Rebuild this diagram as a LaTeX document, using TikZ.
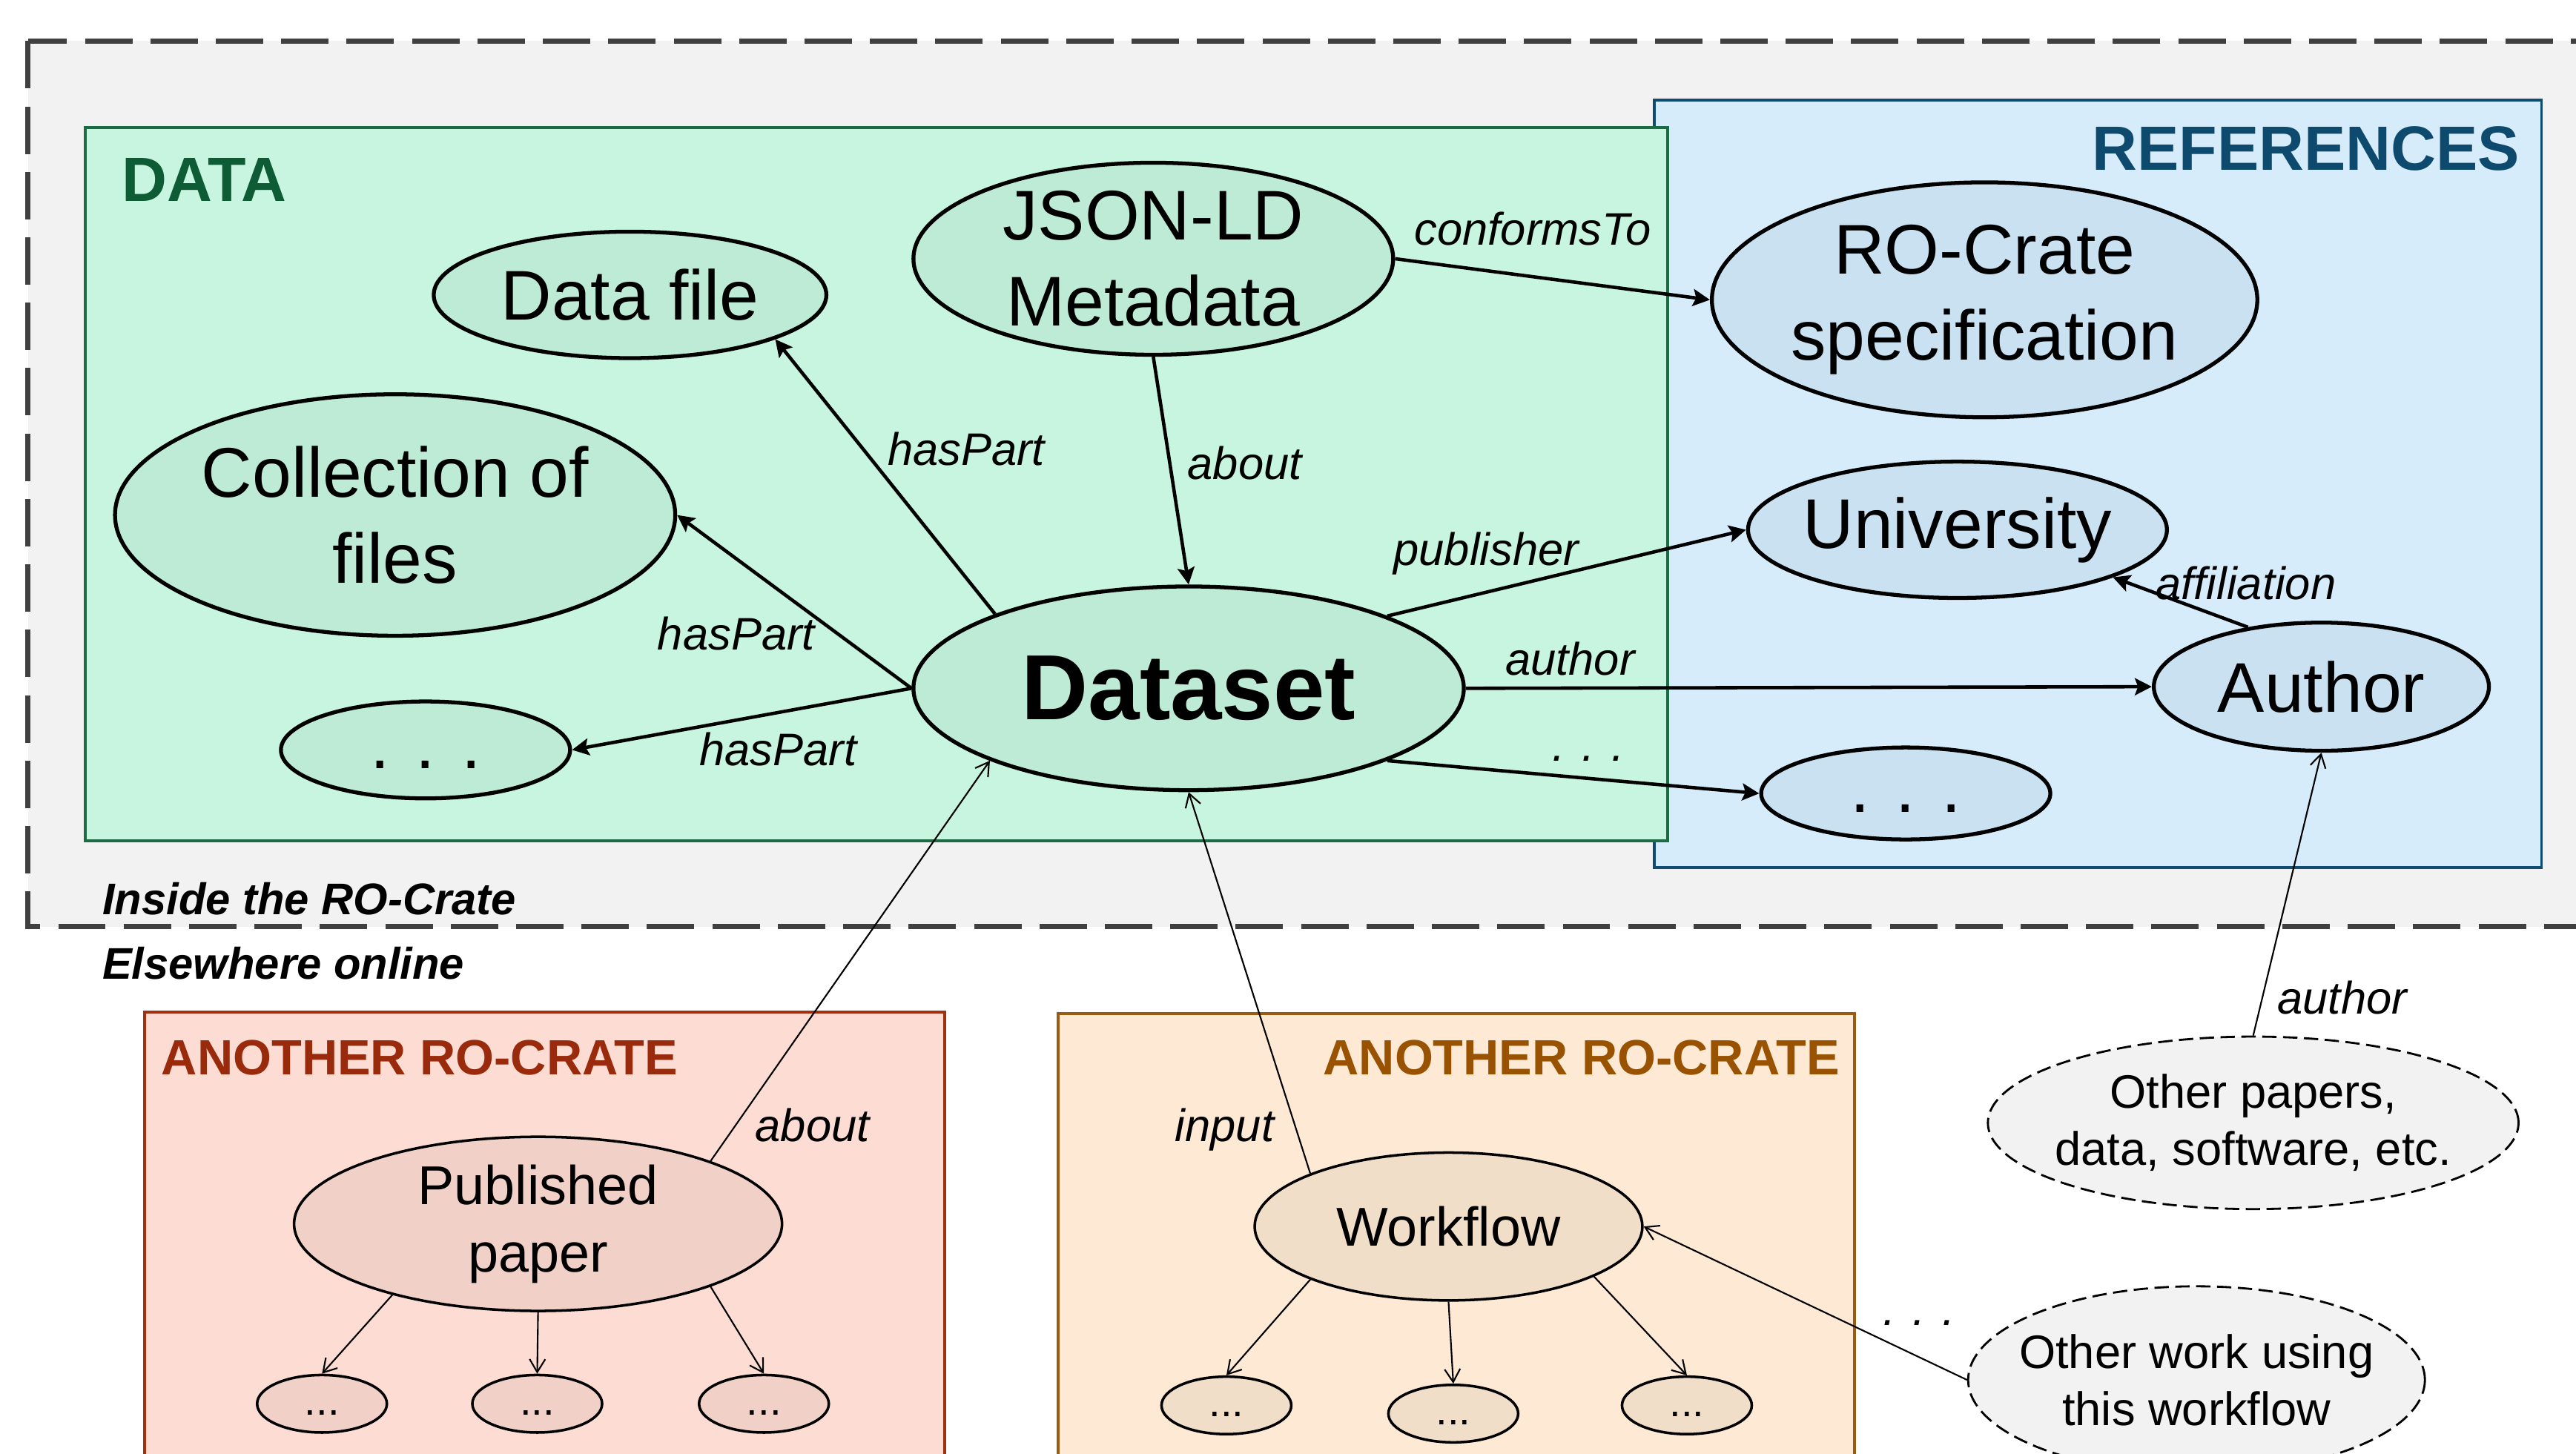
\documentclass[tikz,border=0pt]{standalone}
\usepackage{fontspec}
\setmainfont{Liberation Sans}
\usepackage{tikz}
\usetikzlibrary{arrows.meta,positioning,shapes.geometric}
\definecolor{outerc}{HTML}{F2F2F2}
\definecolor{dashc}{HTML}{404040}
\definecolor{databg}{HTML}{C7F5DF}
\definecolor{databd}{HTML}{1B6B45}
\definecolor{datatx}{HTML}{0D5C36}
\definecolor{grel}{HTML}{BEEBD6}
\definecolor{refbg}{HTML}{D6ECFA}
\definecolor{refbd}{HTML}{0F4C70}
\definecolor{reftx}{HTML}{0D4A6E}
\definecolor{blel}{HTML}{C9E1F1}
\definecolor{redbg}{HTML}{FDDCD3}
\definecolor{redbd}{HTML}{A0300F}
\definecolor{redtx}{HTML}{992A0C}
\definecolor{redel}{HTML}{F1D1C7}
\definecolor{orbg}{HTML}{FEE9D4}
\definecolor{orbd}{HTML}{9A5C12}
\definecolor{ortx}{HTML}{995200}
\definecolor{orel}{HTML}{F1DEC8}
\newcommand\upx{0.22156mm}
\tikzset{
  ar/.style={-{Stealth[length=6.5pt,width=6.5pt,inset=1.2pt]},line width=1.3pt},
  thinar/.style={-{Straight Barb[length=5pt,width=6pt]},line width=0.6pt},
  el/.style 2 args={ellipse,draw,inner ysep=0pt,inner xsep=-12pt,align=center,minimum width=#1*\upx,minimum height=#2*\upx},
  bigtx/.style={line width=1.5pt,font=\fontsize{27}{33}\selectfont},
  midtx/.style={line width=1pt,font=\fontsize{21}{26}\selectfont},
  smtx/.style={line width=1pt,font=\fontsize{16}{18}\selectfont},
  othtx/.style={line width=0.8pt,dash pattern=on 5.5pt off 2.5pt,fill=outerc,font=\fontsize{18}{22}\selectfont},
  lab/.style={anchor=base west,inner sep=0pt,font=\fontsize{17.5}{20}\selectfont\itshape},
  sec/.style={anchor=base west,inner sep=0pt,font=\fontsize{24}{28}\selectfont\bfseries},
  crate/.style={anchor=base west,inner sep=0pt,font=\fontsize{19}{22}\selectfont\bfseries},
  side/.style={anchor=base west,inner sep=0pt,font=\fontsize{17}{20}\selectfont\bfseries\itshape}
}
\begin{document}
\begin{tikzpicture}[x=\upx,y=-\upx]
\useasboundingbox (0,0) rectangle (1568,885);
\clip (0,0) rectangle (1568,885);
% boxes
\draw[dashc,fill=outerc,line width=1.9pt,dash pattern=on 18.2pt off 6.9pt] (17,25) rectangle (1640,564);
\draw[refbd,fill=refbg,line width=1.1pt] (1007,61) rectangle (1547,528);
\draw[databd,fill=databg,line width=1.1pt] (52,77.5) rectangle (1015,512);
\draw[redbd,fill=redbg,line width=1.1pt] (88,616) rectangle (575,920);
\draw[orbd,fill=orbg,line width=1.1pt] (644,617) rectangle (1129,920);
\node[sec,text=datatx] (datalbl) at (74,122.5) {DATA};
\node[sec,text=reftx,anchor=base east] (reflbl) at (1534,103.8) {REFERENCES};
\node[crate,text=redtx] (redlbl) at (98,654) {ANOTHER RO-CRATE};
\node[crate,text=ortx,anchor=base east] (orlbl) at (1120,654) {ANOTHER RO-CRATE};
\node[side] (inside) at (62,556.7) {Inside the RO-Crate};
\node[side] (online) at (62,596) {Elsewhere online};
% inside the crate
\node[el={239}{77},bigtx,fill=grel] (dfile) at (383.5,179.5) {Data file};
\node[el={292}{115},bigtx,fill=grel] (jsonld) at (702,157.5) {JSON-LD\\Metadata};
\node[el={341}{147},bigtx,fill=grel] (coll) at (240.5,313.5) {Collection of\\files};
\node[el={176}{59},bigtx,fill=grel] (gdots) at (259,456.5) {\vphantom{x}. . .};
\node[el={335}{124},fill=grel,line width=1.5pt,font=\fontsize{35.5}{40}\selectfont\bfseries] (ds) at (723.5,419) {Dataset};
\node[el={332}{143},bigtx,fill=blel] (spec) at (1208,182.5) {RO-Crate\\specification};
\node[el={255}{83},bigtx,fill=blel] (uni) at (1191.5,322.5) {University};
\node[el={204}{78},bigtx,fill=blel] (auth) at (1413,418) {Author};
\node[el={176}{56},bigtx,fill=blel] (bdots) at (1160,483) {\vphantom{x}. . .};
\draw[ar] (ds.159.5) -- (dfile.343);
\draw[ar] (ds.west) -- (coll.east);
\draw[ar] (ds.west) -- (gdots.east);
\draw[ar] (jsonld.south) -- (ds.north);
\draw[ar] (jsonld.east) -- (spec.west);
\draw[ar] (ds.20) -- (uni.west);
\draw[ar] (ds.east) -- (auth.west);
\draw[ar] (ds.-20) -- (bdots.west);
\draw[ar] (auth.141) -- (uni.-17.5);
\node[lab] (l1) at (860.7,149) {conformsTo};
\node[lab] (l2) at (540,283) {hasPart};
\node[lab] (l3) at (722.6,292) {about};
\node[lab] (l4) at (400,395.5) {hasPart};
\node[lab] (l5) at (425.5,466) {hasPart};
\node[lab] (l6) at (848,344) {publisher};
\node[lab] (l7) at (916,411) {author};
\node[lab] (l8) at (944.6,463.5) {. . .};
\node[lab] (l9) at (1312,365) {affiliation};
% elsewhere online
\node[el={297}{106},midtx,fill=redel] (paper) at (327.5,745) {Published\\paper};
\node[el={79}{35},smtx,fill=redel] (p1) at (196,854.5) {\vphantom{x}...};
\node[el={79}{35},smtx,fill=redel] (p2) at (327,854.5) {\vphantom{x}...};
\node[el={79}{35},smtx,fill=redel] (p3) at (465,854.5) {\vphantom{x}...};
\node[el={236}{90},midtx,fill=orel] (wf) at (881.7,746.6) {Workflow};
\node[el={79}{35},smtx,fill=orel] (w1) at (746.5,855.5) {\vphantom{x}...};
\node[el={79}{35},smtx,fill=orel] (w2) at (884.6,860.5) {\vphantom{x}...};
\node[el={79}{35},smtx,fill=orel] (w3) at (1026.8,855.5) {\vphantom{x}...};
\node[el={323}{105},othtx] (others) at (1371.5,683.5) {Other papers,\\data, software, etc.};
\node[el={278}{114},othtx] (owork) at (1337,840) {Other work using\\this workflow};
\draw[thinar] (paper.20) -- (ds.200);
\draw[thinar] (wf.159) -- (ds.south);
\draw[thinar] (others.north) -- (auth.south);
\draw[thinar] (owork.west) -- (wf.east);
\draw[thinar] (paper.206) -- (p1.north);
\draw[thinar] (paper.south) -- (p2.north);
\draw[thinar] (paper.-20) -- (p3.north);
\draw[thinar] (wf.201) -- (w1.north);
\draw[thinar] (wf.south) -- (w2.north);
\draw[thinar] (wf.-19.4) -- (w3.north);
\node[lab] (l10) at (459.5,695) {about};
\node[lab] (l11) at (715,695) {input};
\node[lab] (l12) at (1386,617) {author};
\node[lab] (l13) at (1146,807) {. . .};
\end{tikzpicture}
\end{document}
